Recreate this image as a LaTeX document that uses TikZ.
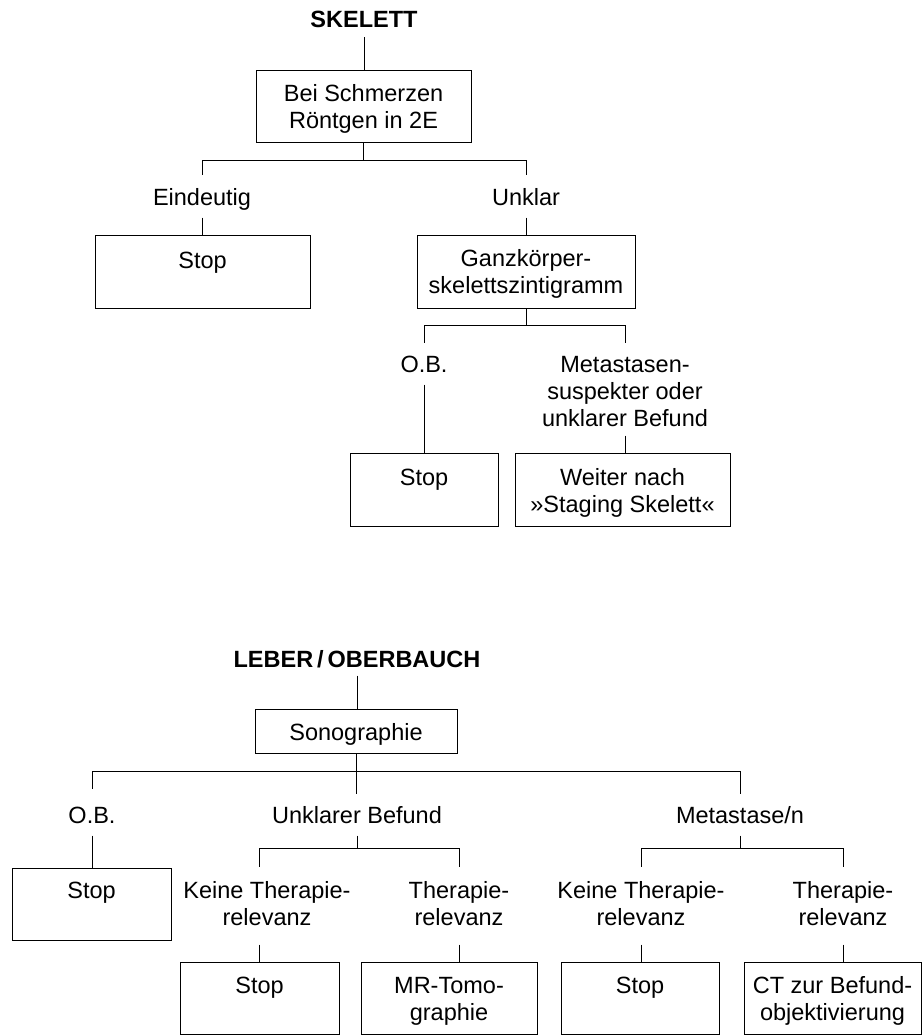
\documentclass[tikz,border=0pt]{standalone}
\usepackage{fontspec}
\setmainfont{Liberation Sans}
\newcommand\flowfont{\fontsize{23.5}{27}\selectfont}
\tikzset{
  entry/.style={draw, align=center, font=\flowfont, inner xsep=0pt, inner ysep=0pt, anchor=base},
  cond/.style={align=center, font=\flowfont, inner sep=0pt, text height=29pt, text depth=12pt, anchor=base},
  head/.style={font=\flowfont\bfseries, inner sep=0pt, text depth=9pt, anchor=base},
}
\begin{document}
\begin{tikzpicture}[x=1pt, y=-1pt, line width=1pt]
\useasboundingbox (0,0) rectangle (922,1035);
% Skelett (nodes sit on the baseline of their last line)
\node[head] (sk) at (364,28) {SKELETT};
\node[entry, minimum width=215pt, text height=58pt, text depth=14pt] (xray) at (363.5,129) {Bei Schmerzen\\Röntgen in 2E};
\node[cond] (eind) at (202,205) {Eindeutig};
\node[cond] (unkl) at (526,205) {Unklar};
\node[entry, minimum width=215pt, text height=33pt, text depth=40pt] (stopa) at (202.5,268) {Stop};
\node[entry, minimum width=218pt, text height=58pt, text depth=15pt] (scint) at (526,293) {Ganzkörper-\\skelettszintigramm};
\node[cond] (obsk) at (424,372) {O.B.};
\node[cond, text height=83pt, text depth=9pt] (meta) at (625,426) {Metastasen-\\suspekter oder\\unklarer Befund};
\node[entry, minimum width=148pt, text height=32pt, text depth=41pt] (stopb) at (424,485) {Stop};
\node[entry, minimum width=215pt, text height=59pt, text depth=14pt] (weiter) at (622.5,512) {Weiter nach\\»Staging Skelett«};
\draw (sk.south) -- (sk.south |- xray.north);
\draw (xray.south) -- ++(0,17) coordinate (ja);
\draw (ja) -| (eind.north);
\draw (ja) -| (unkl.north);
\draw (eind.south) -- (eind.south |- stopa.north);
\draw (unkl.south) -- (unkl.south |- scint.north);
\draw (scint.south) -- ++(0,17) coordinate (jb);
\draw (jb) -| (obsk.north);
\draw (jb) -| (meta.north);
\draw (obsk.south) -- (obsk.south |- stopb.north);
\draw (meta.south) -- (meta.south |- weiter.north);
% Leber / Oberbauch
\node[head, text depth=8pt] (lb) at (357,667) {LEBER\,/\,OBERBAUCH};
\node[entry, minimum width=202pt, text height=31pt, text depth=13pt] (sono) at (356,740) {Sonographie};
\node[cond, text height=34pt] (obl) at (92,823) {O.B.};
\node[cond] (unb) at (357,823) {Unklarer Befund};
\node[cond] (mets) at (740,823) {Metastase/n};
\node[entry, minimum width=159pt, text height=30pt, text depth=42pt] (stopc) at (91.5,898) {Stop};
\node[cond, text height=58pt, text depth=19pt] (keinu) at (267,925) {Keine Therapie-\\relevanz};
\node[cond, text height=58pt, text depth=19pt] (theru) at (459,925) {Therapie-\\relevanz};
\node[cond, text height=58pt, text depth=19pt] (keinm) at (641,925) {Keine Therapie-\\relevanz};
\node[cond, text height=58pt, text depth=19pt] (therm) at (843,925) {Therapie-\\relevanz};
\node[entry, minimum width=159pt, text height=31pt, text depth=41pt] (stopd) at (259.5,993) {Stop};
\node[entry, minimum width=176pt, text height=58pt, text depth=14pt] (mrt) at (449,1020) {MR-Tomo-\\graphie};
\node[entry, minimum width=158pt, text height=31pt, text depth=41pt] (stope) at (640,993) {Stop};
\node[entry, minimum width=177pt, text height=58pt, text depth=14pt] (ctb) at (832.5,1020) {CT zur Befund-\\objektivierung};
\draw (lb.south) -- (lb.south |- sono.north);
\draw (sono.south) -- ++(0,18) coordinate (jc);
\draw (jc) -| (obl.north);
\draw (jc) -| (mets.north);
\draw (jc) -- (jc |- unb.north);
\draw (obl.south) -- (obl.south |- stopc.north);
\draw (unb.south) -- ++(0,13) coordinate (jd);
\draw (jd) -| (stopd.north |- keinu.north);
\draw (jd) -| (theru.north);
\draw (stopd.north |- keinu.south) -- (stopd.north);
\draw (theru.south) -- (theru.south |- mrt.north);
\draw (mets.south) -- ++(0,13) coordinate (je);
\draw (je) -| (keinm.north);
\draw (je) -| (therm.north);
\draw (keinm.south) -- (keinm.south |- stope.north);
\draw (therm.south) -- (therm.south |- ctb.north);
\end{tikzpicture}
\end{document}
